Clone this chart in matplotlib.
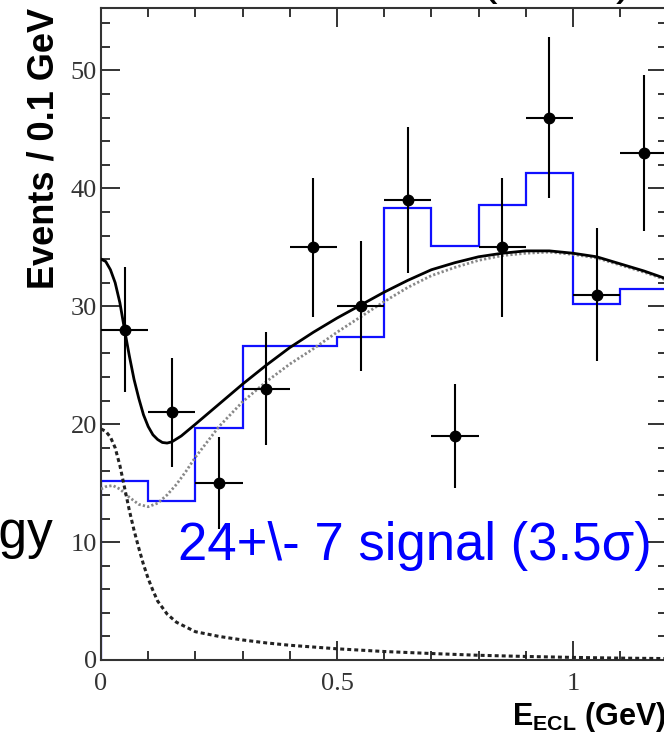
import numpy as np
import matplotlib.pyplot as plt
from matplotlib.ticker import MultipleLocator, FormatStrFormatter

plt.rcParams['mathtext.fontset'] = 'custom'
plt.rcParams['mathtext.bf'] = 'Liberation Sans:bold'
plt.rcParams['mathtext.rm'] = 'Liberation Sans'

# measured spectrum, 0.1 GeV bins
bin_edges = [0.0, 0.1, 0.2, 0.3, 0.4, 0.5, 0.6, 0.7, 0.8, 0.9, 1.0, 1.1, 1.2]
bin_centers = [0.05, 0.15, 0.25, 0.35, 0.45, 0.55, 0.65, 0.75, 0.85, 0.95, 1.05, 1.15]
events = [28, 21, 15, 23, 35, 30, 39, 19, 35, 46, 31, 43]
event_errs = [5.3, 4.6, 3.9, 4.8, 5.9, 5.5, 6.2, 4.4, 5.9, 6.8, 5.6, 6.6]

# expected shape (blue histogram)
mc_counts = [15.2, 13.5, 19.7, 26.6, 26.6, 27.4, 38.3, 35.1, 38.6, 41.3, 30.2, 31.5]

# fit result: total
fit_x = [0.0, 0.01, 0.02, 0.03, 0.04, 0.05, 0.06, 0.07, 0.08, 0.09, 0.10, 0.11,
         0.12, 0.13, 0.14, 0.15, 0.17, 0.20, 0.25, 0.30, 0.35, 0.40, 0.45, 0.50,
         0.55, 0.60, 0.65, 0.70, 0.75, 0.80, 0.85, 0.90, 0.95, 1.00, 1.05, 1.10,
         1.15, 1.20]
fit_total = [34.0, 33.8, 33.1, 32.0, 30.3, 28.0, 25.8, 23.8, 22.2, 20.8, 19.8, 19.1,
             18.7, 18.45, 18.4, 18.5, 19.0, 20.0, 21.7, 23.4, 25.0, 26.5, 27.8, 29.0,
             30.1, 31.2, 32.2, 33.1, 33.7, 34.2, 34.5, 34.7, 34.7, 34.5, 34.2, 33.6,
             33.0, 32.3]

# fit result: background component
bkg_x = [0.0, 0.01, 0.025, 0.04, 0.06, 0.08, 0.10, 0.12, 0.14, 0.16, 0.18, 0.20,
         0.25, 0.30, 0.35, 0.40, 0.45, 0.50, 0.55, 0.60, 0.65, 0.70, 0.75, 0.80,
         0.85, 0.90, 0.95, 1.00, 1.05, 1.10, 1.15, 1.20]
bkg = [14.5, 14.7, 14.8, 14.5, 13.8, 13.2, 13.0, 13.3, 14.0, 14.9, 16.0, 17.2,
       19.8, 21.9, 23.6, 25.1, 26.4, 27.8, 29.1, 30.4, 31.6, 32.6, 33.3, 33.9,
       34.3, 34.5, 34.6, 34.4, 34.1, 33.5, 32.9, 32.2]

# fit result: peaking component
sig_x = [0.0, 0.01, 0.02, 0.03, 0.04, 0.05, 0.06, 0.07, 0.08, 0.09, 0.10, 0.11,
         0.12, 0.14, 0.16, 0.18, 0.20, 0.25, 0.30, 0.35, 0.40, 0.50, 0.60, 0.70,
         0.80, 0.90, 1.00, 1.10, 1.20]
sig = [19.6, 19.4, 18.9, 18.0, 16.5, 14.6, 12.7, 11.0, 9.5, 8.1, 6.9, 5.9,
       5.0, 3.9, 3.2, 2.8, 2.4, 2.0, 1.7, 1.45, 1.25, 0.95, 0.72, 0.55,
       0.4, 0.3, 0.22, 0.16, 0.12]

W, H = 664, 735


def fx(px):
    return px / W


def fy(py):
    return 1 - py / H


fig = plt.figure(figsize=(W / 100, H / 100), dpi=100)
ax = fig.add_axes([fx(101), 75 / H, 566.4 / W, 652 / H])

ax.stairs(mc_counts, bin_edges, color='#1010ff', lw=1.6, zorder=2)
ax.plot(bkg_x, bkg, color='#888888', lw=2.0, ls=(0, (0.8, 0.8)), zorder=3)
ax.plot(sig_x, sig, color='#222222', lw=2.2, ls=(0, (1.3, 1.0)), zorder=3)
ax.plot(fit_x, fit_total, color='black', lw=2.0, zorder=4)

half_w = np.diff(bin_edges) / 2
ax.errorbar(bin_centers, events, xerr=half_w, yerr=event_errs, fmt='o',
            color='black', ms=7.5, elinewidth=1.5, capsize=0, zorder=5)

ax.set_xlim(0, 1.2)
ax.set_ylim(0, 55.3)
ax.xaxis.set_major_locator(MultipleLocator(0.5))
ax.xaxis.set_minor_locator(MultipleLocator(0.1))
ax.yaxis.set_major_locator(MultipleLocator(10))
ax.yaxis.set_minor_locator(MultipleLocator(2))
ax.xaxis.set_major_formatter(FormatStrFormatter('%g'))
ax.yaxis.set_major_formatter(FormatStrFormatter('%g'))

ax.tick_params(which='both', direction='in', top=True, right=True,
               color='#333333', width=1.4)
ax.tick_params(which='major', length=13.5)
ax.tick_params(which='minor', length=6.8)
ax.tick_params(axis='x', pad=9, labelsize=19, labelcolor='#333333')
ax.tick_params(axis='y', pad=3, labelsize=19, labelcolor='#333333')
for lab in ax.get_xticklabels() + ax.get_yticklabels():
    lab.set_family('Liberation Serif')
for sp in ax.spines.values():
    sp.set_color('#333333')
    sp.set_linewidth(1.5)

fig.text(fx(44), fy(8), 'Events / 0.1 GeV', rotation=90, ha='center', va='top',
         fontsize=26, fontweight='bold', family='Liberation Sans')
fig.text(fx(512), fy(725), r'$\mathbf{E}_{\mathbf{ECL}}$ (GeV)', ha='left',
         va='baseline', fontsize=22, fontweight='bold', family='Liberation Sans')

fig.text(fx(178), fy(560), '24+\\- 7 signal (3.5\u03c3)', color='#0000ff',
         ha='left', va='baseline', fontsize=38, family='Liberation Sans')
fig.text(fx(54), fy(548), 'Energy', color='black', ha='right', va='baseline',
         fontsize=37, family='Liberation Sans')
fig.text(fx(497), fy(-6), '(', ha='right', va='baseline', fontsize=36,
         family='Liberation Sans')
fig.text(fx(616), fy(-6), ')', ha='left', va='baseline', fontsize=36,
         family='Liberation Sans')

fig.savefig('out.png', dpi=100)
